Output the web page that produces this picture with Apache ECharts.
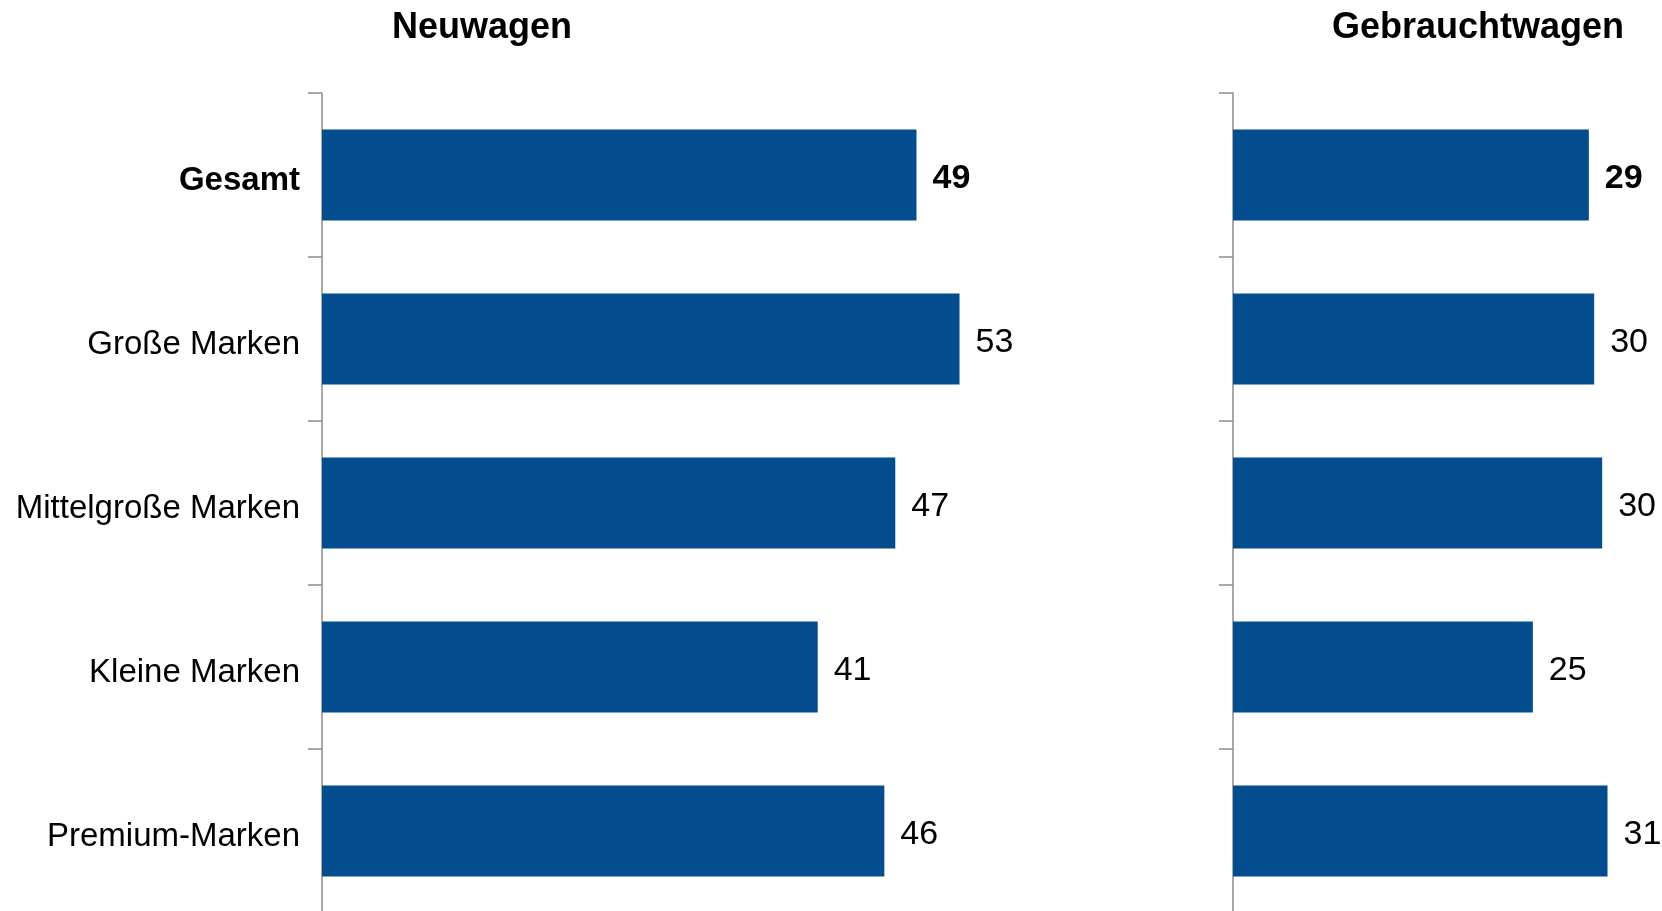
<!DOCTYPE html>
<html>
<head>
<meta charset="utf-8">
<script src="https://cdn.jsdelivr.net/npm/echarts@6/dist/echarts.min.js"></script>
<style>
html,body{margin:0;padding:0;background:#fff;}
#chart{width:1662px;height:911px;}
</style>
</head>
<body>
<div id="chart"></div>
<script>
var categories = ['Gesamt', 'Große Marken', 'Mittelgroße Marken', 'Kleine Marken', 'Premium-Marken'];
var neuwagenValues = [49.05, 52.6, 47.3, 40.9, 46.4];
var gebrauchtValues = [29.36, 29.8, 30.46, 24.74, 30.9];
var titles = ['Neuwagen', 'Gebrauchtwagen'];
var boldCategory = 'Gesamt';

var FONT = '"Liberation Sans", Arial, sans-serif';
var BAR = '#034d8f';
var AXIS = '#8c8c8c';

function barData(vals) {
  return vals.map(function (v, i) {
    return {
      value: v,
      label: { fontWeight: categories[i] === boldCategory ? 'bold' : 'normal' }
    };
  });
}

function yAxisCfg(gridIndex, showLabels) {
  return {
    type: 'category',
    gridIndex: gridIndex,
    data: categories,
    inverse: true,
    boundaryGap: true,
    axisLine: { show: true, lineStyle: { color: AXIS, width: 1.5 } },
    axisTick: { show: true, length: 14, lineStyle: { color: AXIS, width: 1.5 } },
    axisLabel: {
      show: showLabels,
      margin: 22,
      padding: [12, 0, 0, 0],
      fontFamily: FONT,
      fontSize: 33,
      color: '#000',
      formatter: function (v) { return v === boldCategory ? '{b|' + v + '}' : v; },
      rich: { b: { fontFamily: FONT, fontSize: 33, fontWeight: 'bold', color: '#000' } }
    },
    splitLine: { show: false }
  };
}

function xAxisCfg(gridIndex, max) {
  return {
    type: 'value', gridIndex: gridIndex, min: 0, max: max,
    show: false, splitLine: { show: false }
  };
}

function seriesCfg(idx, vals) {
  return {
    type: 'bar',
    xAxisIndex: idx, yAxisIndex: idx,
    data: barData(vals),
    barCategoryGap: '44.5%',
    itemStyle: { color: BAR },
    label: {
      show: true, position: 'right', distance: 16,
      offset: [0, 4],
      fontFamily: FONT, fontSize: 34, color: '#000',
      formatter: function (p) { return String(Math.round(p.value)); }
    },
    silent: true, animation: false
  };
}

var chart = echarts.init(document.getElementById('chart'), null, { renderer: 'canvas' });
chart.setOption({
  backgroundColor: '#fff',
  animation: false,
  title: [
    { text: titles[0], left: 477, top: 5, textAlign: 'center',
      textStyle: { fontFamily: FONT, fontSize: 36, fontWeight: 'bold', color: '#000' } },
    { text: titles[1], left: 1473, top: 5, textAlign: 'center',
      textStyle: { fontFamily: FONT, fontSize: 36, fontWeight: 'bold', color: '#000' } }
  ],
  grid: [
    { left: 322, top: 93, width: 727.2, height: 820, outerBoundsMode: 'none', containLabel: false },
    { left: 1233, top: 93, width: 424.2, height: 820, outerBoundsMode: 'none', containLabel: false }
  ],
  xAxis: [xAxisCfg(0, 60), xAxisCfg(1, 35)],
  yAxis: [yAxisCfg(0, true), yAxisCfg(1, false)],
  series: [seriesCfg(0, neuwagenValues), seriesCfg(1, gebrauchtValues)]
});
</script>
</body>
</html>
